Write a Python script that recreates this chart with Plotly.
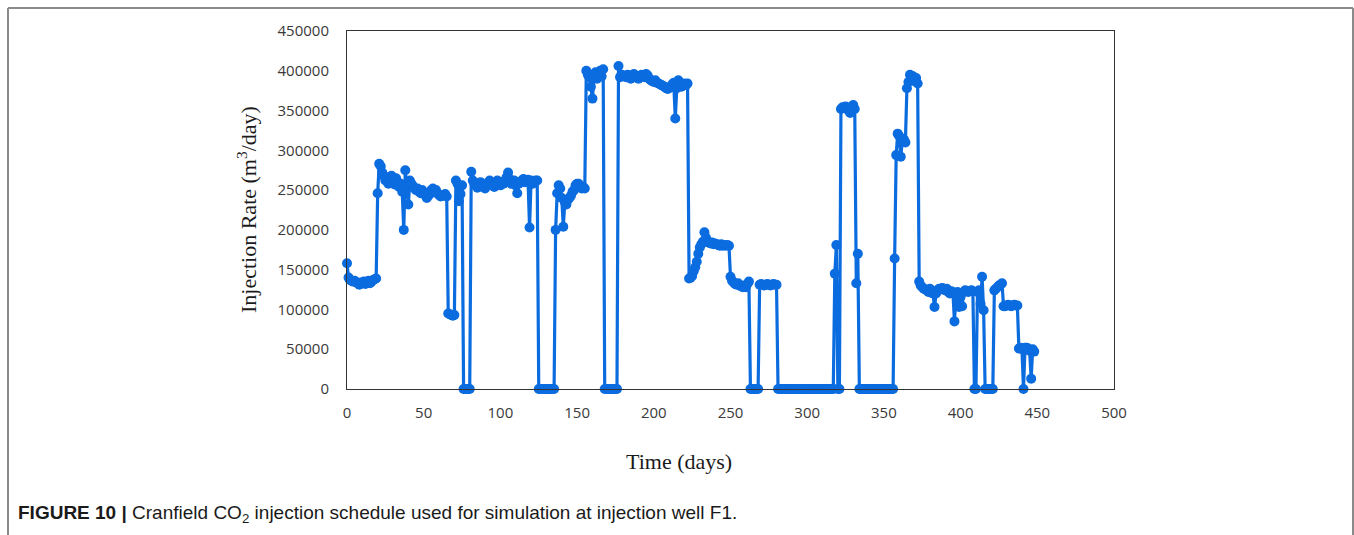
import plotly.graph_objects as go

# Daily injection rate (m3/day), day 0 .. 448
rate_000_099 = [
    158000, 140000, 137000, 136000, 135000, 136000, 134000, 133000, 131000, 134000,
    133000, 135000, 132000, 134000, 136000, 133000, 135000, 137000, 138000, 139000,
    246000, 283000, 280000, 272000, 268000, 262000, 265000, 258000, 262000, 268000,
    262000, 257000, 265000, 260000, 254000, 258000, 248000, 200000, 275000, 255000,
    232000, 262000, 258000, 255000, 252000, 250000, 252000, 248000, 246000, 250000,
    246000, 244000, 240000, 243000, 245000, 250000, 252000, 248000, 250000, 246000,
    244000, 242000, 244000, 243000, 245000, 242000, 95000, 94000, 93000, 92000,
    93000, 262000, 258000, 236000, 245000, 256000, 0, 0, 0, 0,
    0, 273000, 262000, 258000, 256000, 253000, 255000, 260000, 258000, 254000,
    252000, 256000, 258000, 262000, 260000, 256000, 254000, 258000, 262000, 258000,
]
rate_100_199 = [
    256000, 260000, 258000, 262000, 266000, 272000, 264000, 258000, 260000, 262000,
    256000, 246000, 258000, 260000, 262000, 264000, 260000, 262000, 263000, 203000,
    262000, 258000, 260000, 262000, 262000, 0, 0, 0, 0, 0,
    0, 0, 0, 0, 0, 0, 200000, 246000, 256000, 252000,
    240000, 204000, 235000, 232000, 238000, 240000, 243000, 248000, 250000, 256000,
    258000, 258000, 254000, 252000, 254000, 252000, 400000, 395000, 392000, 380000,
    365000, 392000, 398000, 390000, 396000, 400000, 393000, 402000, 0, 0,
    0, 0, 0, 0, 0, 0, 0, 406000, 392000, 395000,
    393000, 394000, 392000, 395000, 393000, 390000, 393000, 396000, 394000, 392000,
    390000, 393000, 395000, 394000, 392000, 396000, 394000, 390000, 388000, 387000,
]
rate_200_299 = [
    386000, 388000, 385000, 384000, 383000, 382000, 381000, 380000, 378000, 377000,
    378000, 380000, 383000, 385000, 340000, 378000, 388000, 385000, 380000, 383000,
    384000, 382000, 384000, 139000, 140000, 142000, 148000, 153000, 160000, 170000,
    178000, 182000, 185000, 197000, 190000, 186000, 184000, 183000, 184000, 182000,
    183000, 182000, 181000, 180000, 182000, 180000, 181000, 180000, 181000, 180000,
    141000, 136000, 134000, 132000, 131000, 133000, 130000, 129000, 128000, 130000,
    128000, 132000, 135000, 0, 0, 0, 0, 0, 0, 131000,
    132000, 131000, 130000, 131000, 132000, 131000, 130000, 131000, 132000, 131000,
    131000, 0, 0, 0, 0, 0, 0, 0, 0, 0,
    0, 0, 0, 0, 0, 0, 0, 0, 0, 0,
]
rate_300_399 = [
    0, 0, 0, 0, 0, 0, 0, 0, 0, 0,
    0, 0, 0, 0, 0, 0, 0, 0, 145000, 181000,
    0, 0, 352000, 354000, 353000, 355000, 352000, 350000, 347000, 355000,
    357000, 352000, 133000, 170000, 0, 0, 0, 0, 0, 0,
    0, 0, 0, 0, 0, 0, 0, 0, 0, 0,
    0, 0, 0, 0, 0, 0, 0, 164000, 294000, 321000,
    318000, 292000, 312000, 314000, 310000, 378000, 386000, 395000, 390000, 393000,
    387000, 391000, 384000, 135000, 130000, 128000, 126000, 125000, 124000, 122000,
    126000, 121000, 120000, 103000, 120000, 124000, 126000, 125000, 127000, 126000,
    124000, 126000, 122000, 120000, 123000, 121000, 85000, 118000, 122000, 103000,
]
rate_400_448 = [
    116000, 104000, 122000, 124000, 123000, 122000, 123000, 124000, 123000, 0,
    0, 122000, 124000, 107000, 141000, 99000, 0, 0, 0, 0,
    0, 0, 124000, 126000, 128000, 130000, 131000, 133000, 104000, 104000,
    105000, 106000, 105000, 104000, 105000, 106000, 105000, 105000, 51000, 52000,
    50000, 0, 52000, 52000, 51000, 48000, 13000, 50000, 47000,
]

rates = rate_000_099 + rate_100_199 + rate_200_299 + rate_300_399 + rate_400_448
days = list(range(len(rates)))

x_ticks = [0, 50, 100, 150, 200, 250, 300, 350, 400, 450, 500]
y_ticks = [0, 50000, 100000, 150000, 200000, 250000, 300000, 350000, 400000, 450000]

BLUE = "#0b6ce0"

fig = go.Figure()
fig.add_trace(go.Scatter(
    x=days, y=rates, mode="lines+markers",
    line=dict(color=BLUE, width=3.2),
    marker=dict(color=BLUE, size=10),
    showlegend=False, cliponaxis=False,
))

tick_font = dict(family="Open Sans", size=15, color="#3a3a3a")

fig.update_layout(
    width=1354, height=535,
    margin=dict(l=347, r=240, t=31, b=146),
    paper_bgcolor="white", plot_bgcolor="white",
    xaxis=dict(
        range=[0, 500], tickvals=x_ticks, ticktext=[str(v) for v in x_ticks],
        showgrid=False, zeroline=False, showline=True, mirror=True,
        linecolor="#333333", linewidth=1,
        ticks="outside", ticklen=10, tickcolor="rgba(0,0,0,0)",
        tickfont=tick_font,
    ),
    yaxis=dict(
        range=[0, 450000], tickvals=y_ticks, ticktext=[str(v) for v in y_ticks],
        showgrid=False, zeroline=False, showline=True, mirror=True,
        linecolor="#333333", linewidth=1,
        ticks="outside", ticklen=14, tickcolor="rgba(0,0,0,0)",
        tickfont=tick_font,
    ),
    annotations=[
        dict(text="Injection Rate (m<sup>3</sup>/day)", xref="paper", yref="paper",
             x=(247 - 347) / 767, y=0.5, xanchor="center", yanchor="middle", textangle=-90,
             showarrow=False,
             font=dict(family="Liberation Serif", size=22, color="#1a1a1a")),
        dict(text="Time (days)", xref="paper", yref="paper",
             x=(679 - 347) / 767, y=(389 - 461) / 358, xanchor="center", yanchor="middle",
             showarrow=False,
             font=dict(family="Liberation Serif", size=22, color="#1a1a1a")),
        dict(text="<b>FIGURE 10 |</b> Cranfield CO<sub>2</sub> injection schedule used for simulation at injection well F1.",
             xref="paper", yref="paper",
             x=(16 - 347) / 767, y=(389 - 514) / 358, xanchor="left", yanchor="middle",
             showarrow=False,
             font=dict(family="Liberation Sans", size=19, color="#1a1a1a")),
    ],
    shapes=[
        dict(type="line", xref="paper", yref="paper",
             x0=(8 - 347) / 767, x1=(1353 - 347) / 767,
             y0=(389 - 8) / 358, y1=(389 - 8) / 358,
             line=dict(color="#8a8a8a", width=2)),
        dict(type="line", xref="paper", yref="paper",
             x0=(8 - 347) / 767, x1=(8 - 347) / 767,
             y0=(389 - 8) / 358, y1=-0.5,
             line=dict(color="#8a8a8a", width=2)),
        dict(type="line", xref="paper", yref="paper",
             x0=(1353 - 347) / 767, x1=(1353 - 347) / 767,
             y0=(389 - 8) / 358, y1=-0.5,
             line=dict(color="#8a8a8a", width=2)),
    ],
)

fig.write_html("out.html")
